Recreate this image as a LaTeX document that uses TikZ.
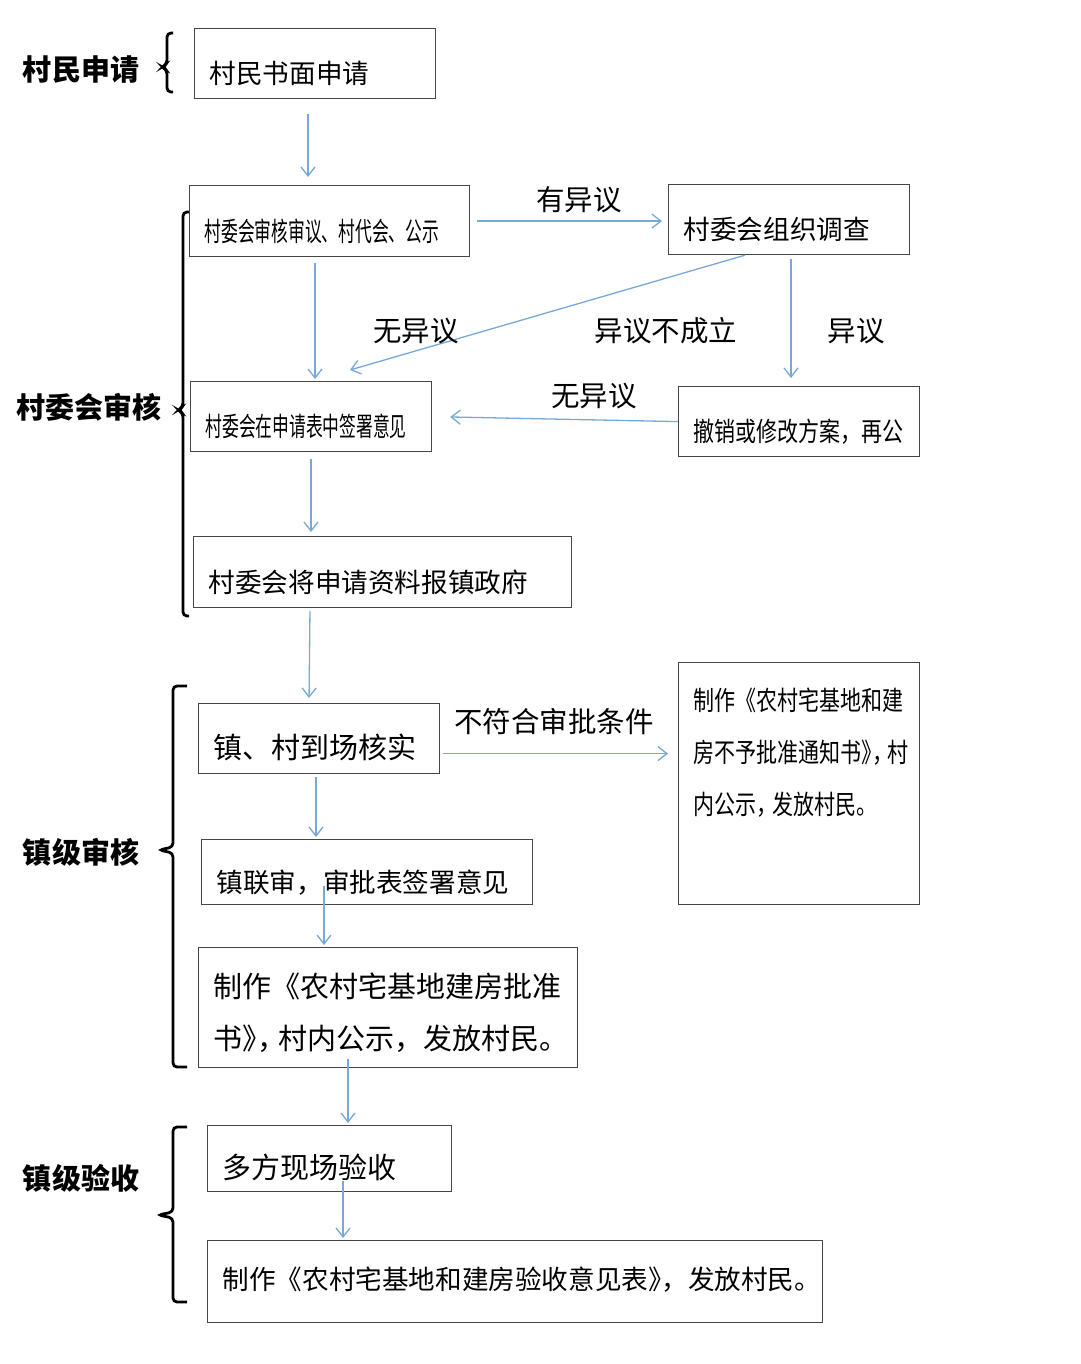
\documentclass[tikz,border=0pt]{standalone}
\usepackage{fontspec}
\newfontfamily\cjk{Noto Sans CJK SC}
\usetikzlibrary{arrows.meta}
\definecolor{flowblue}{RGB}{120,168,215}
\definecolor{boxgrey}{RGB}{70,70,70}
\newcommand{\bracket}[6]{
\draw[line width=2.8pt, rounded corners=4pt] ({#1+#5},#2) -- (#1,#2) -- (#1,{#3-3}) -- ({#1-#6},#3) -- (#1,{#3+3}) -- (#1,#4) -- ({#1+#5},#4);
}
\newcommand{\narrow}[2]{\scalebox{#1}[1]{#2}}
\newcommand{\half}[2][0.5em]{\makebox[#1][l]{#2}}
\tikzset{
	box/.style={draw=boxgrey, line width=1.2pt, anchor=north west, inner xsep=15pt, inner ysep=0pt, align=left, text height=44pt, text depth=4pt, font=\cjk\fontsize{26.6}{32}\selectfont},
	tallbox/.style={draw=boxgrey, line width=1.2pt, anchor=north west, inner xsep=15pt, inner ysep=0pt},
	flow/.style={draw=flowblue, line width=1.3pt, -{Straight Barb[length=9pt,width=14pt]}},
	stage/.style={font=\cjk\bfseries\fontsize{29}{34}\selectfont},
	note/.style={font=\cjk\fontsize{28.5}{34}\selectfont}
}
\begin{document}
\begin{tikzpicture}[x=1pt, y=-1pt]
			\fill[white] (0,0) rectangle (1080,1364);
			\useasboundingbox (0,0) rectangle (1080,1364);
			
			%stage labels
			\node[stage] (st-cunmin) at (81,70) {村民申请};
			\node[stage] (st-cunwei) at (89,407) {村委会审核};
			\node[stage] (st-zhenshen) at (81,852) {镇级审核};
			\node[stage] (st-zhenyan) at (81,1178) {镇级验收};
			%brackets
			\bracket{167}{33}{67}{92}{6}{5}
			\bracket{183}{212}{410}{616}{6}{5}
			\bracket{173}{686}{850}{1067}{14}{14}
			\bracket{173}{1127}{1215}{1302}{14}{15}
			
			%boxes
			\node[box, text width=211pt, minimum height=70pt] (shenqing) at (194,28) {村民书面申请};
			\node[box, text width=250pt, minimum height=71pt] (shenyi) at (189,185) {\narrow{0.63}{村委会审核审议、村代会、公示}};
			\node[box, text width=211pt, minimum height=70pt] (diaocha) at (668,184) {村委会组织调查};
			\node[box, text width=211pt, minimum height=70pt] (qianshu) at (190,381) {\narrow{0.63}{村委会在申请表中签署意见}};
			\node[box, text width=211pt, minimum height=70pt] (chexiao) at (678,386) {\narrow{0.79}{撤销或修改方案，再公}};
			\node[box, text width=348pt, minimum height=71pt] (baosong) at (193,536) {村委会将申请资料报镇政府};
			\node[box, text width=211pt, minimum height=70pt, font=\cjk\fontsize{29}{34}\selectfont] (hecha) at (198,703) {镇、村到场核实};
			\node[tallbox, font=\cjk\fontsize{26.6}{52}\selectfont] (buyu) at (678,662) {\parbox[c][242pt][t]{211pt}{\vspace*{25pt}\narrow{0.79}{制作《农村宅基地和建}\\\narrow{0.79}{房不予批准通知书\half{》}\half[0.72em]{，}村}\\\narrow{0.79}{内公示\half[0.75em]{，}发放村民。}}};
			\node[box, text width=301pt, minimum height=65pt] (lianshen) at (201,839) {镇联审，审批表签署意见};
			\node[tallbox, font=\cjk\fontsize{29}{52}\selectfont] (pizhun) at (198,947) {\parbox[c][120pt][t]{349pt}{\vspace*{25pt}制作《农村宅基地建房批准\\书\half{》}\half[0.72em]{，}村内公示，发放村民。}};
			\node[box, text width=214pt, minimum height=66pt, font=\cjk\fontsize{29}{34}\selectfont] (yanshou) at (207,1125) {多方现场验收};
			\node[box, text width=585pt, minimum height=82pt, text height=20pt] (yijian) at (207,1240) {制作《农村宅基地和建房验收意见表\half{》}，发放村民。};
			
			%flow
			\draw[flow, shorten <=15pt, shorten >=8pt] ([xshift=114pt]shenqing.south west) -- ([xshift=119pt]shenyi.north west);
			\draw[flow, shorten <=7pt, shorten >=6pt] (shenyi.east) -- (shenyi.east -| diaocha.west);
			\draw[flow, shorten <=6pt, shorten >=2pt] ([xshift=126pt]shenyi.south west) -- ([xshift=125pt]qianshu.north west);
			\draw[flow] ([xshift=77pt]diaocha.south west) -- ([xshift=160pt,yshift=11pt]qianshu.north west);
			\draw[flow, shorten <=4pt, shorten >=8pt] ([xshift=123pt]diaocha.south west) -- ([xshift=113pt]chexiao.north west);
			\draw[flow, shorten >=18pt] (chexiao.west) -- (qianshu.east);
			\draw[flow, shorten <=7pt, shorten >=4pt] ([xshift=121pt]qianshu.south west) -- ([xshift=118pt]baosong.north west);
			\draw[flow, shorten <=3pt, shorten >=5pt] ([xshift=117pt]baosong.south west) -- ([xshift=111pt]hecha.north west);
			\draw[flow, shorten <=3pt, shorten >=10pt] ([yshift=-15pt]hecha.east) -- ([yshift=-15pt]hecha.east -| buyu.west);
			\draw[flow, shorten <=3pt, shorten >=2pt] ([xshift=118pt]hecha.south west) -- ([xshift=115pt]lianshen.north west);
			\draw[flow, shorten >=2pt] ([xshift=123pt,yshift=19pt]lianshen.south west) -- ([xshift=126pt]pizhun.north west);
			\draw[flow, shorten >=2pt] ([xshift=150pt,yshift=9pt]pizhun.south west) -- ([xshift=141pt]yanshou.north west);
			\draw[flow, shorten >=2pt] ([xshift=136pt,yshift=11pt]yanshou.south west) -- ([xshift=136pt]yijian.north west);
			
			%connector labels
			\node[note] (l-youyi) at (579,200) {有异议};
			\node[note] (l-wuyi) at (416,331) {无异议};
			\node[note] (l-buchengli) at (666,331) {异议不成立};
			\node[note] (l-yiyi) at (856,331) {异议};
			\node[note] (l-wuyi-b) at (594,396) {无异议};
			\node[note] (l-bufuhe) at (554,722) {不符合审批条件};
\end{tikzpicture}
\end{document}
